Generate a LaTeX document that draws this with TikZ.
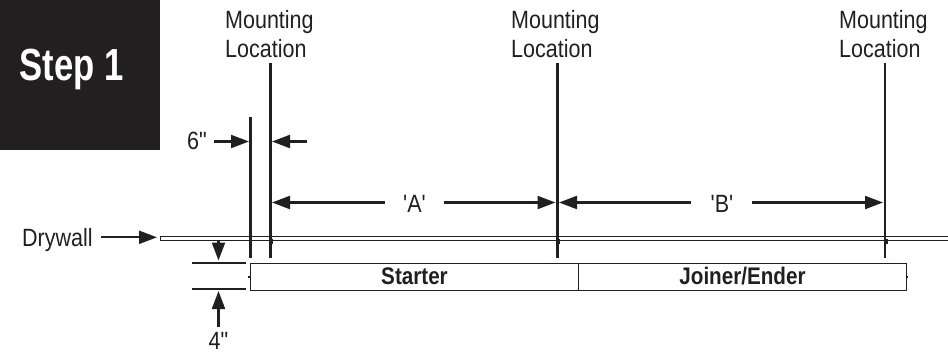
\documentclass[tikz,border=0pt]{standalone}
\usepackage{fontspec}
\setmainfont{Liberation Sans}[FakeStretch=0.86]
\newfontfamily\stepfont{Liberation Sans}[FakeStretch=0.77,BoldFont={Liberation Sans Bold}]
\newfontfamily\plainf{Liberation Sans}[FakeStretch=0.86]
\definecolor{ink}{HTML}{231F20}
\usetikzlibrary{arrows.meta}
\newcommand{\qd}{{\plainf\char"22}}
\newcommand{\qs}{{\plainf\char"27}}
\tikzset{
  heavy/.style={draw=ink,line width=2.4pt},
  dim/.style={draw=ink,line width=2.2pt,-{Triangle[length=18pt,width=13pt]}},
  lab/.style={text=ink,font=\fontsize{25}{29}\selectfont,inner sep=0pt,anchor=base},
  mount/.style={text=ink,font=\fontsize{25}{29}\selectfont,inner sep=0pt,align=left,anchor=base west},
  partbox/.style={draw=ink,line width=1pt,minimum height=27pt,anchor=north west,inner sep=0pt,text=ink,font=\bfseries\fontsize{24}{26}\selectfont},
  stub/.style={fill=ink},
}
\begin{document}
\begin{tikzpicture}[x=1pt,y=-1pt]
\useasboundingbox (0,0) rectangle (948,354);
\fill[ink] (0,0) rectangle (160,150);
\node[text=white,font=\stepfont\bfseries\fontsize{45}{50}\selectfont,inner sep=0pt,anchor=base] (step) at (71.5,80) {Step 1};
\node[mount] (m1) at (225,57) {Mounting\\Location};
\node[mount] (m2) at (511,57) {Mounting\\Location};
\node[mount] (m3) at (839,57) {Mounting\\Location};
\draw[draw=ink,line width=0.9pt,fill=white] (160,236.5) rectangle (949,240);
\coordinate (v0t) at (250.5,117); \coordinate (v0b) at (250.5,258);
\coordinate (v1t) at (270.5,63); \coordinate (v1b) at (270.5,258);
\coordinate (v2t) at (557.3,63); \coordinate (v2b) at (557.3,258);
\coordinate (v3t) at (885,63); \coordinate (v3b) at (885,258);
\draw[heavy] (v0t)--(v0b); \draw[heavy] (v1t)--(v1b); \draw[heavy] (v2t)--(v2b); \draw[heavy] (v3t)--(v3b);
\fill[stub] (270.5,239) rectangle (273,244);
\fill[stub] (557.3,239) rectangle (559.8,244);
\fill[stub] (885,239) rectangle (887.5,244);
\node[partbox,minimum width=328pt] (starter) at (250,263) {\raisebox{1.5pt}{Starter}};
\node[partbox,minimum width=328pt] (joiner) at (578,263) {\raisebox{1.5pt}{Joiner/Ender}};
\fill[stub] (248,276) rectangle (250,278);
\fill[stub] (906,276) rectangle (908,278);
\node[lab] (six) at (197,149) {6\qd};
\coordinate (s1) at (214,141.5); \coordinate (s1e) at (249,141.5);
\coordinate (s2) at (307,141.5); \coordinate (s2e) at (272,141.5);
\draw[dim] (s1)--(s1e); \draw[dim] (s2)--(s2e);
\node[lab] (a) at (414.5,212) {\qs A\qs};
\coordinate (a1) at (385,202.5); \coordinate (a1e) at (272,202.5);
\coordinate (a2) at (444,202.5); \coordinate (a2e) at (555.5,202.5);
\draw[dim] (a1)--(a1e); \draw[dim] (a2)--(a2e);
\node[lab] (b) at (722,212) {\qs B\qs};
\coordinate (b1) at (691,202.5); \coordinate (b1e) at (559,202.5);
\coordinate (b2) at (752,202.5); \coordinate (b2e) at (883,202.5);
\draw[dim] (b1)--(b1e); \draw[dim] (b2)--(b2e);
\node[lab,anchor=base west] (dw) at (22,246) {Drywall};
\coordinate (d1) at (101,237.3); \coordinate (d1e) at (157,237.3);
\draw[dim] (d1)--(d1e);
\coordinate (t1) at (191.5,262.7); \coordinate (t1e) at (246,262.7);
\coordinate (t2) at (191.5,288.7); \coordinate (t2e) at (246,288.7);
\draw[heavy] (t1)--(t1e); \draw[heavy] (t2)--(t2e);
\coordinate (u1) at (218.5,240); \coordinate (u1e) at (218.5,260.5);
\coordinate (u2) at (218.5,327); \coordinate (u2e) at (218.5,291);
\draw[dim] (u1)--(u1e); \draw[dim] (u2)--(u2e);
\node[lab] (four) at (218.5,349.5) {4\qd};
\end{tikzpicture}
\end{document}
